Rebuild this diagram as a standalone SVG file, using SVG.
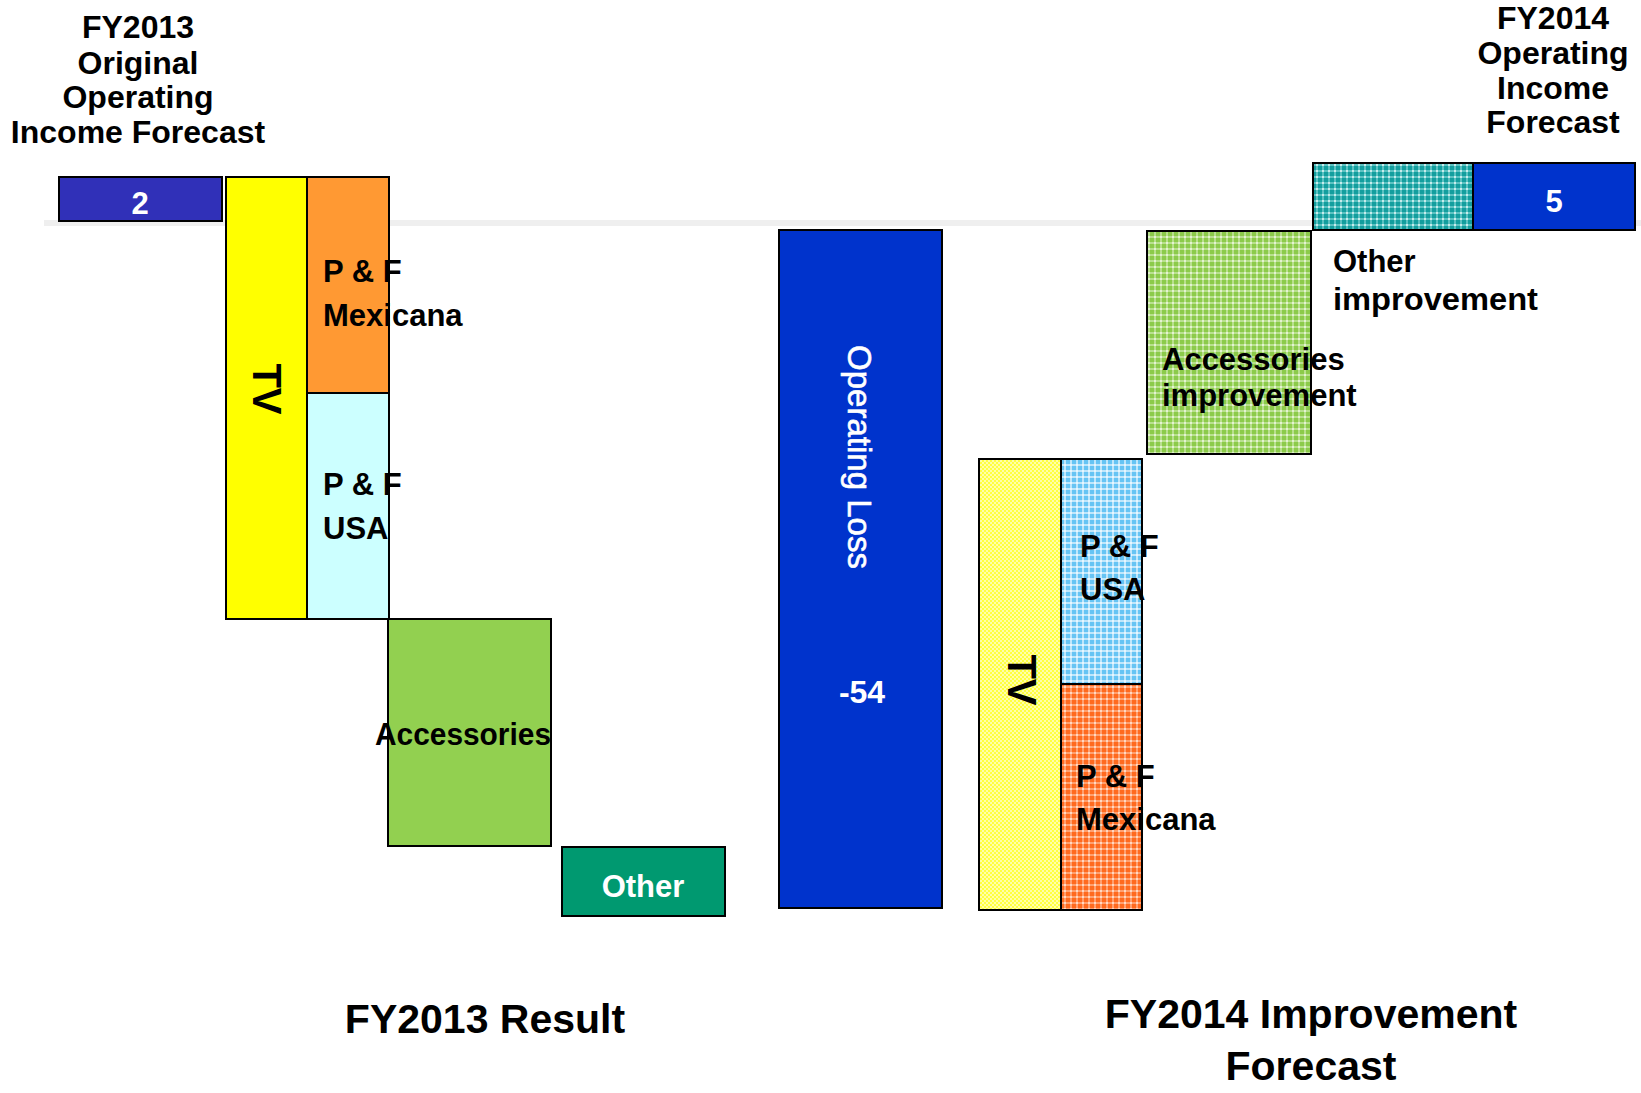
<svg xmlns="http://www.w3.org/2000/svg" width="1641" height="1093" viewBox="0 0 1641 1093">
<style>
text{font-family:"Liberation Sans",Arial,sans-serif;font-weight:bold;fill:#000}
.t{font-size:31px}
.h{font-size:32px;text-anchor:middle}
.big{font-size:41px;text-anchor:middle}
.w{fill:#fff}
.c{text-anchor:middle}
.box{stroke:#000;stroke-width:2}
</style>
<defs>
<pattern id="pYel" width="4" height="4" patternUnits="userSpaceOnUse">
<rect width="4" height="4" fill="#ffff40"/>
<rect width="2" height="2" fill="#ffffa8"/>
<rect x="2" y="2" width="2" height="2" fill="#ffffa8"/>
</pattern>
<pattern id="pBlu" width="6" height="6" patternUnits="userSpaceOnUse">
<rect width="6" height="6" fill="#66c4f4"/>
<rect x="2" y="0" width="2" height="6" fill="#bfe6fb"/>
<rect x="0" y="2" width="6" height="2" fill="#bfe6fb"/>
<rect x="2" y="2" width="2" height="2" fill="#e6f6ff"/>
</pattern>
<pattern id="pOra" width="6" height="6" patternUnits="userSpaceOnUse">
<rect width="6" height="6" fill="#ff6a1f"/>
<rect x="2" y="0" width="2" height="6" fill="#ffa070"/>
<rect x="0" y="2" width="6" height="2" fill="#ffa070"/>
<rect x="2" y="2" width="2" height="2" fill="#ffd9c4"/>
</pattern>
<pattern id="pGrn" width="6" height="6" patternUnits="userSpaceOnUse">
<rect width="6" height="6" fill="#8ccb4a"/>
<rect x="2" y="0" width="2" height="6" fill="#b9e08e"/>
<rect x="0" y="2" width="6" height="2" fill="#b9e08e"/>
<rect x="2" y="2" width="2" height="2" fill="#e4f3d2"/>
</pattern>
<pattern id="pTea" width="6" height="6" patternUnits="userSpaceOnUse">
<rect width="6" height="6" fill="#139e9e"/>
<rect x="2" y="0" width="2" height="6" fill="#5cc2c2"/>
<rect x="0" y="2" width="6" height="2" fill="#5cc2c2"/>
<rect x="2" y="2" width="2" height="2" fill="#c8ecec"/>
</pattern>
</defs>
<rect width="1641" height="1093" fill="#fff"/>
<g id="connectors">
<rect x="44" y="220" width="1597" height="6" fill="#efefef"/>
</g>
<g id="title-left">
<text class="h" x="138" y="38">FY2013</text>
<text class="h" x="138" y="74">Original</text>
<text class="h" x="138" y="108">Operating</text>
<text class="h" x="138" y="143">Income Forecast</text>
</g>
<g id="title-right">
<text class="h" x="1553" y="29">FY2014</text>
<text class="h" x="1553" y="64">Operating</text>
<text class="h" x="1553" y="99">Income</text>
<text class="h" x="1553" y="133">Forecast</text>
</g>
<g id="fy2013-forecast">
<rect class="box" x="59" y="177" width="163" height="44" fill="#3030b8"/>
<text class="t w c" x="140" y="214">2</text>
</g>
<g id="tv-2013">
<rect class="box" x="226" y="177" width="81" height="442" fill="#ffff00"/>
<text class="c" font-size="40" transform="translate(267 389) rotate(90)" y="14">TV</text>
</g>
<g id="pf-mexicana-2013">
<rect class="box" x="307" y="177" width="82" height="216" fill="#ff9933"/>
<text class="t" x="323" y="282">P &amp; F</text>
<text class="t" x="323" y="326">Mexicana</text>
</g>
<g id="pf-usa-2013">
<rect class="box" x="307" y="393" width="82" height="226" fill="#ccffff"/>
<text class="t" x="323" y="495">P &amp; F</text>
<text class="t" x="323" y="539">USA</text>
</g>
<g id="accessories-2013">
<rect class="box" x="388" y="619" width="163" height="227" fill="#92d050"/>
<text class="t" x="375" y="745" textLength="176" lengthAdjust="spacingAndGlyphs">Accessories</text>
</g>
<g id="other-2013">
<rect class="box" x="562" y="847" width="163" height="69" fill="#009970"/>
<text class="t w c" x="643" y="897">Other</text>
</g>
<g id="operating-loss">
<rect class="box" x="779" y="230" width="163" height="678" fill="#0033cc"/>
<text class="w c" font-size="33" style="font-weight:normal;stroke:#fff;stroke-width:0.6" transform="translate(848 457) rotate(90)">Operating Loss</text>
<text class="w c" font-size="32" x="862" y="703">-54</text>
</g>
<g id="tv-2014">
<rect class="box" x="979" y="459" width="82" height="451" fill="url(#pYel)"/>
<text class="c" font-size="40" transform="translate(1022 680) rotate(90)" y="14">TV</text>
</g>
<g id="pf-usa-2014">
<rect class="box" x="1061" y="459" width="81" height="225" fill="url(#pBlu)"/>
<text class="t" x="1080" y="557">P &amp; F</text>
<text class="t" x="1080" y="600">USA</text>
</g>
<g id="pf-mexicana-2014">
<rect class="box" x="1061" y="684" width="81" height="226" fill="url(#pOra)"/>
<text class="t" x="1076" y="787">P &amp; F</text>
<text class="t" x="1076" y="830">Mexicana</text>
</g>
<g id="accessories-improvement">
<rect class="box" x="1147" y="231" width="164" height="223" fill="url(#pGrn)"/>
<text class="t" x="1162" y="370">Accessories</text>
<text class="t" x="1162" y="406">improvement</text>
</g>
<g id="other-improvement">
<rect class="box" x="1313" y="163" width="160" height="67" fill="url(#pTea)"/>
<text class="t" x="1333" y="272">Other</text>
<text class="t" x="1333" y="310" textLength="205" lengthAdjust="spacingAndGlyphs">improvement</text>
</g>
<g id="fy2014-forecast">
<rect class="box" x="1473" y="163" width="162" height="67" fill="#0033cc"/>
<text class="t w c" x="1554" y="212">5</text>
</g>
<g id="label-2013">
<text class="big" x="485" y="1033">FY2013 Result</text>
</g>
<g id="label-2014">
<text class="big" x="1311" y="1028">FY2014 Improvement</text>
<text class="big" x="1311" y="1080">Forecast</text>
</g>
</svg>
